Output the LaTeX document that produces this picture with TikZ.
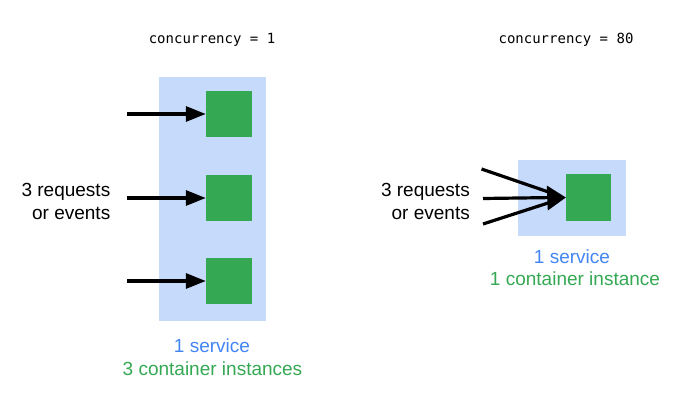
\documentclass[tikz,border=0pt]{standalone}
\usepackage{fontspec}
\setmainfont{Liberation Sans}
\setmonofont{DejaVu Sans Mono}
\usetikzlibrary{arrows.meta,calc}
\definecolor{svcbg}{HTML}{C6DAFC}
\definecolor{gcs}{HTML}{34A853}
\definecolor{bluetxt}{HTML}{4285F4}
\begin{document}
\begin{tikzpicture}[x=1pt,y=-1pt,
  svc/.style={fill=svcbg,draw=none,inner sep=0pt},
  ctr/.style={fill=gcs,draw=none,inner sep=0pt,minimum width=46pt,minimum height=46pt},
  req/.style={line width=3.2pt,-{Triangle[length=20pt,width=15pt]}},
  feed/.style={line width=3.2pt},
  lbl/.style={font=\fontsize{19}{23}\selectfont,align=center,inner sep=0pt},
  code/.style={font=\ttfamily\fontsize{14}{16}\selectfont,inner sep=0pt}]
\useasboundingbox (0,0) rectangle (700,412);
% left
\node[code,anchor=base] (c1) at (212,44) {concurrency = 1};
\node[svc,minimum width=107pt,minimum height=244pt] (b1) at (212.5,199) {};
\node[ctr] (g1) at (229,114) {};
\node[ctr] (g2) at (229,198) {};
\node[ctr] (g3) at (229,281) {};
\coordinate (s1) at (127,114);
\coordinate (s2) at (127,198);
\coordinate (s3) at (127,281);
\draw[req] (s1) -- (g1.west);
\draw[req] (s2) -- (g2.west);
\draw[req] (s3) -- (g3.west);
\node[lbl,anchor=base east] (r1a) at (110.5,196) {3 requests};
\node[lbl,anchor=base east] (r1b) at (110.5,219) {or events};
\node[lbl,text=bluetxt,anchor=base] (sv1) at (212,352) {1 service};
\node[lbl,text=gcs,anchor=base] (ci1) at (212.5,375) {3 container instances};
% right
\node[code,anchor=base] (c2) at (566,44) {concurrency = 80};
\node[svc,minimum width=108pt,minimum height=76pt] (b2) at (572,198) {};
\node[ctr,minimum width=45pt,minimum height=47pt] (g4) at (588.5,197.5) {};
\coordinate (u1) at (481.5,169);
\coordinate (u2) at (483,198.5);
\coordinate (u3) at (483,224);
\draw[feed] (u1) -- ($(g4.west)+(-10,-3)$);
\draw[feed] (u3) -- ($(g4.west)+(-10,3)$);
\draw[feed] (u2) -- ($(g4.west)+(-10,0)$);
\fill (g4.west) -- ++(-19,-12) -- ++(1,25) -- cycle;
\node[lbl,anchor=base east] (r2a) at (470,196) {3 requests};
\node[lbl,anchor=base east] (r2b) at (470,219) {or events};
\node[lbl,text=bluetxt,anchor=base] (sv2) at (572,263) {1 service};
\node[lbl,text=gcs,anchor=base] (ci2) at (575,285) {1 container instance};
\end{tikzpicture}
\end{document}
